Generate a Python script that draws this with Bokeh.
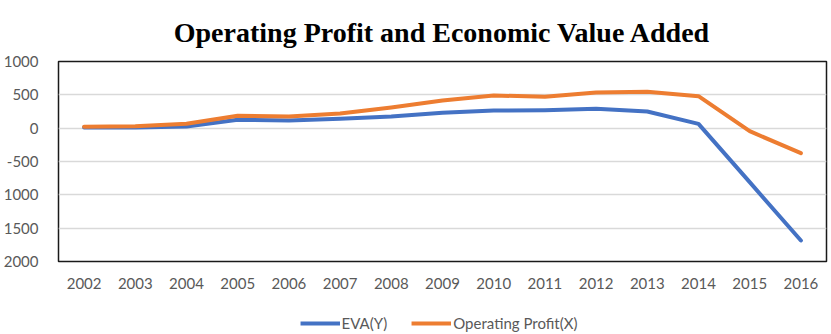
from bokeh.plotting import figure
from bokeh.layouts import column
from bokeh.models import FactorRange, Range1d, Legend, LegendItem, Title, FixedTicker
from bokeh.embed import file_html
from bokeh.resources import INLINE

years = ["2002", "2003", "2004", "2005", "2006", "2007", "2008", "2009",
         "2010", "2011", "2012", "2013", "2014", "2015", "2016"]
eva = [10, 10, 25, 125, 115, 140, 175, 230, 265, 270, 290, 250, 65, -810, -1685]
op_profit = [20, 30, 65, 185, 175, 220, 310, 415, 490, 470, 535, 545, 480, -45, -375]
y_ticks = [1000, 500, 0, -500, -1000, -1500, -2000]
y_tick_labels = ["1000", "500", "0", "-500", "1000", "1500", "2000"]
series_names = ["EVA(Y)", "Operating Profit(X)"]
colors = ["#4472C4", "#ED7D31"]

p = figure(x_range=FactorRange(*years), y_range=Range1d(-2000, 1000),
           frame_width=768, frame_height=200,
           min_border_left=51, min_border_right=12, min_border_top=58, min_border_bottom=48,
           output_backend="svg", toolbar_location=None)

p.outline_line_color = "#1a1a1a"
p.outline_line_width = 1.5
p.background_fill_color = "white"
p.border_fill_color = "white"

p.line(years, eva, line_color=colors[0], line_width=4, line_join="round", line_cap="round")
p.line(years, op_profit, line_color=colors[1], line_width=4, line_join="round", line_cap="round")

p.xgrid.grid_line_color = None
p.ygrid.grid_line_color = "#d9d9d9"
p.ygrid.grid_line_width = 1.5

p.yaxis.ticker = FixedTicker(ticks=y_ticks)
p.yaxis.major_label_overrides = {t: l for t, l in zip(y_ticks, y_tick_labels)}
for ax in (p.xaxis[0], p.yaxis[0]):
    ax.axis_line_color = None
    ax.major_tick_line_color = None
    ax.minor_tick_line_color = None
    ax.major_label_text_font = "Lato"
    ax.major_label_text_font_size = "15px"
    ax.major_label_text_color = "#595959"
p.yaxis.major_label_standoff = 14
p.xaxis.major_label_standoff = 10
p.x_range.range_padding = 0
p.x_range.factor_padding = 0

title = Title(text="Operating Profit and Economic Value Added",
              text_font="Liberation Serif", text_font_style="bold",
              text_font_size="28px", text_color="#000000",
              align="center", standoff=28)
p.add_layout(title, "above")

# Legend strip below the chart (its lines lie outside the visible range)
lg = figure(x_range=FactorRange(*years), y_range=Range1d(5000, 6000),
            width=831, height=28, min_border=0,
            x_axis_type=None, y_axis_type=None,
            output_backend="svg", toolbar_location=None)
lg.outline_line_color = None
lg.xgrid.grid_line_color = None
lg.ygrid.grid_line_color = None
lg_eva = lg.line(years, eva, line_color=colors[0], line_width=4)
lg_op = lg.line(years, op_profit, line_color=colors[1], line_width=4)

legend = Legend(items=[LegendItem(label=series_names[0], renderers=[lg_eva]),
                       LegendItem(label=series_names[1], renderers=[lg_op])],
                orientation="horizontal", location="center",
                glyph_width=40, glyph_height=16, label_height=16,
                label_text_font="Lato", label_text_font_size="15px",
                label_text_color="#595959", border_line_color=None,
                background_fill_alpha=0, spacing=24, label_standoff=2, padding=0, margin=0)
lg.add_layout(legend, "center")

layout = column(p, lg, spacing=0)
open("out.html", "w").write(file_html(layout, INLINE))
